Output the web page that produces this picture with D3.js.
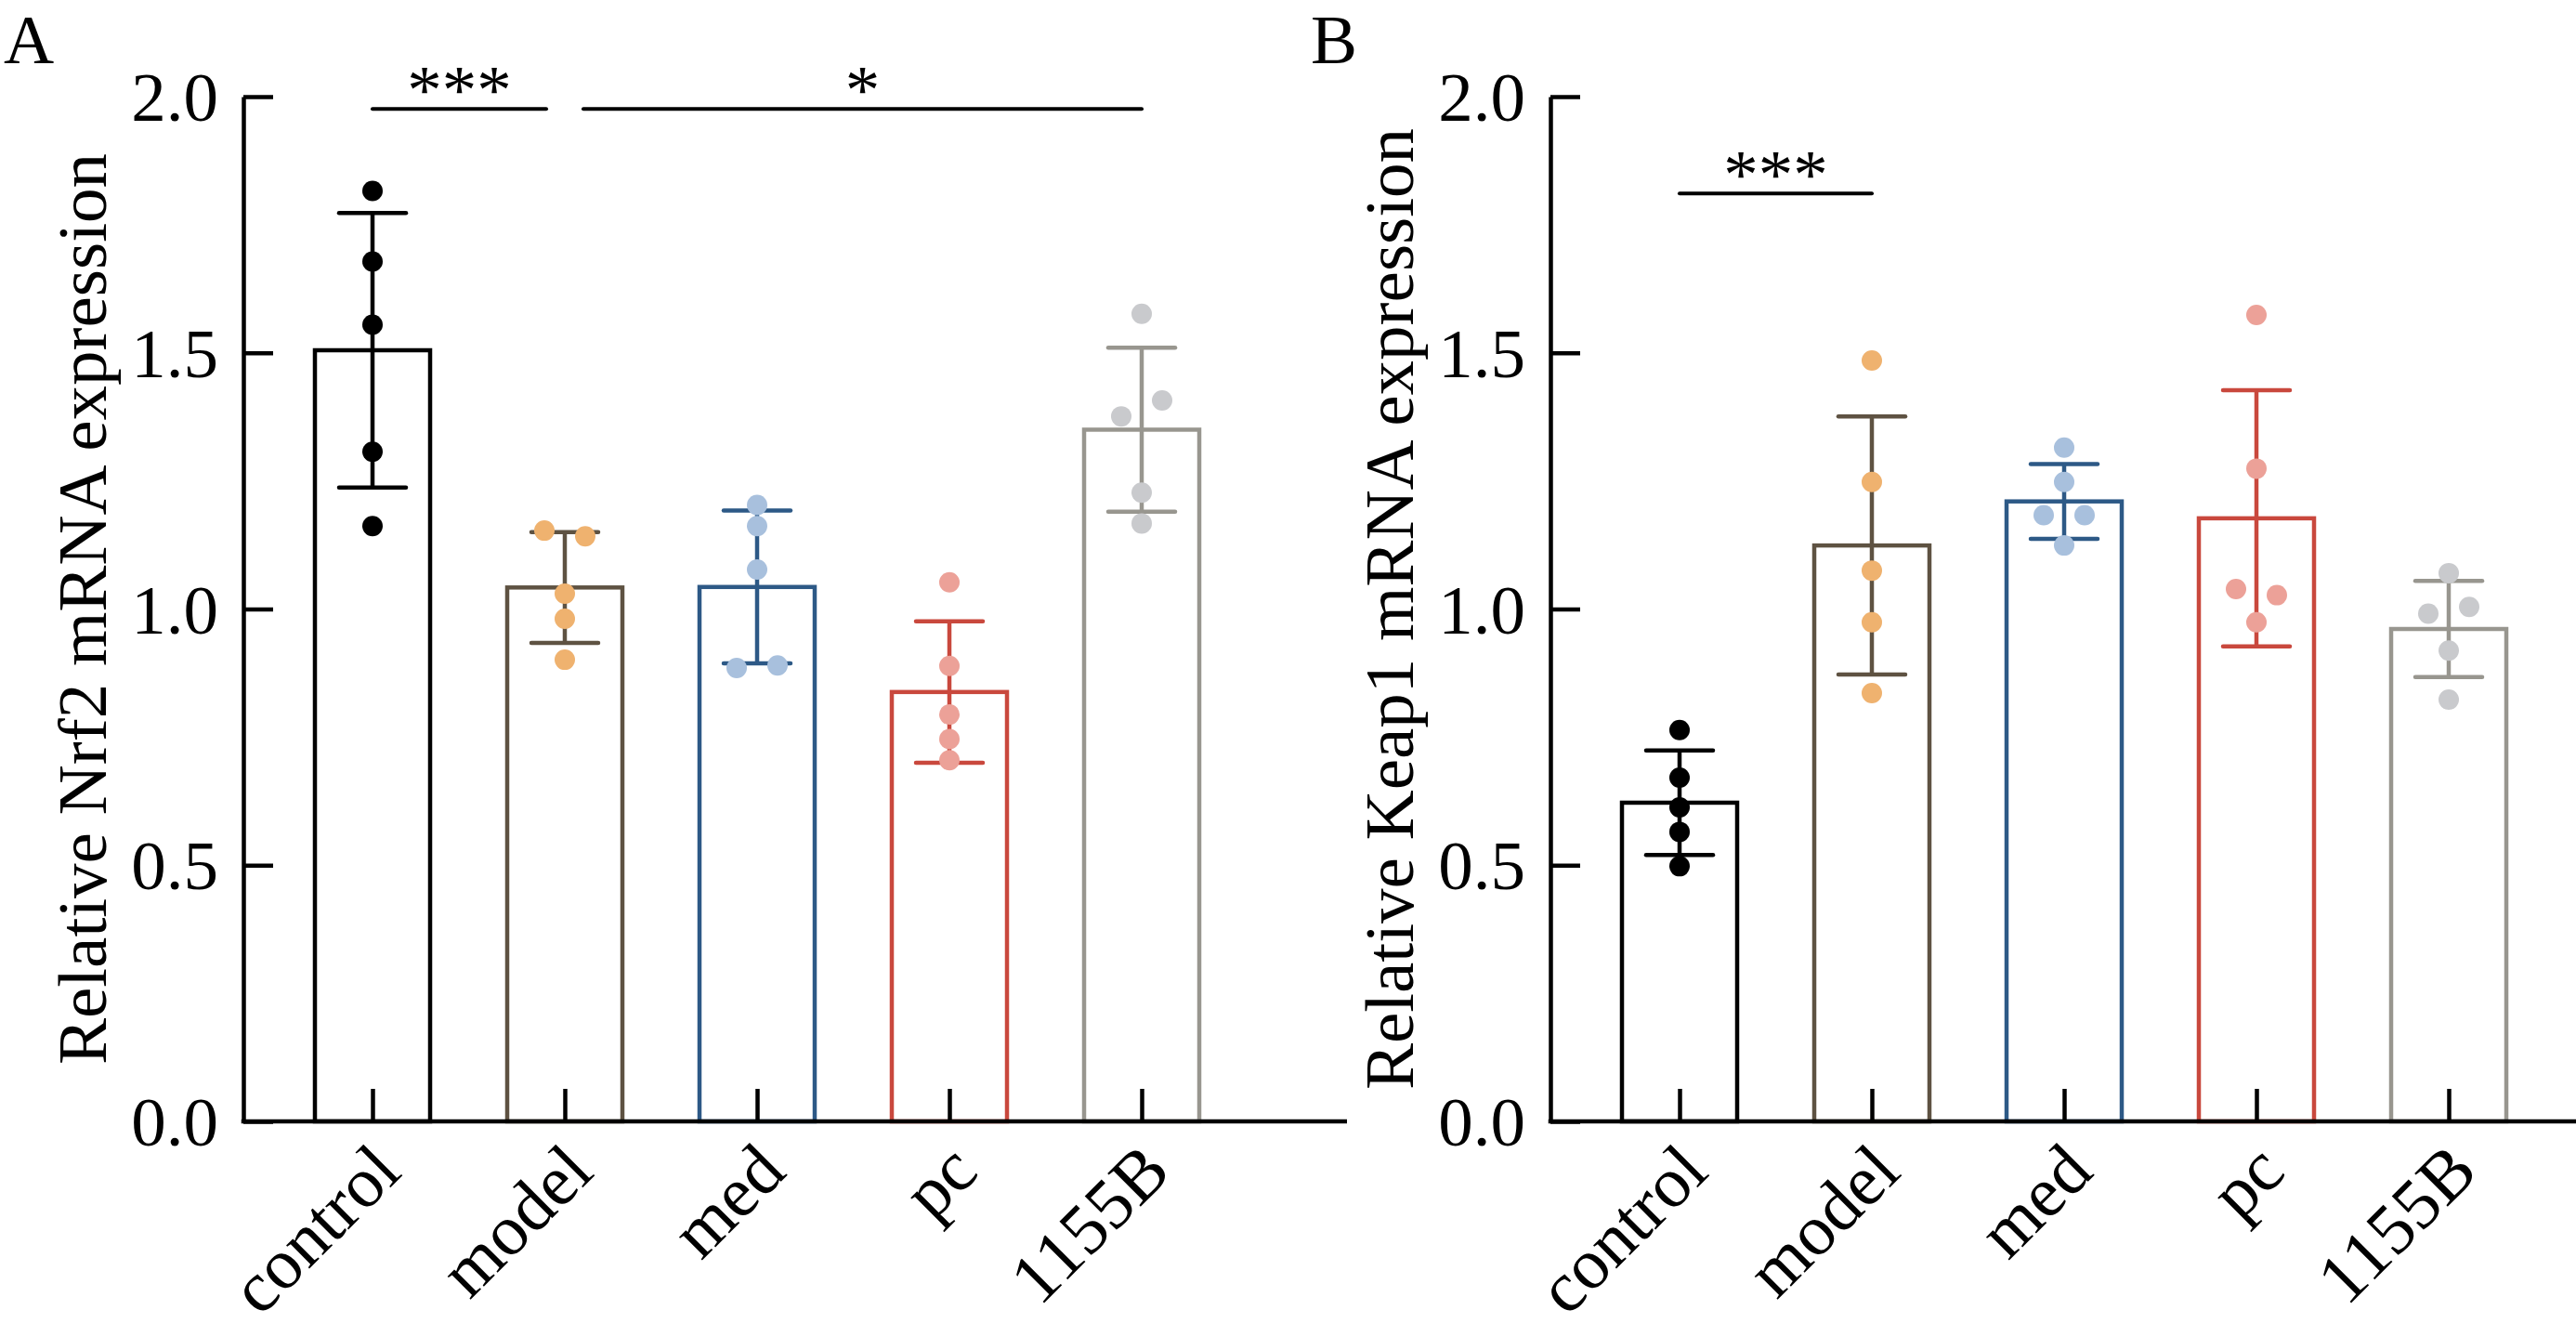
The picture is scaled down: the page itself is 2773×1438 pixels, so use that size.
<!DOCTYPE html>
<html>
<head>
<meta charset="utf-8">
<script src="https://cdn.jsdelivr.net/npm/d3@7"></script>
<style>
    html, body { margin: 0; padding: 0; background: #fff; overflow: hidden; }
    text { font-family: "Liberation Serif", "Times New Roman", serif; fill: #000; }
</style>
</head>
<body>
<div id="chart"></div>
<script>
// Data (relative mRNA expression, n = 5 per group)
const categories = ["control", "model", "med", "pc", "1155B"];
const yTicks = [0.0, 0.5, 1.0, 1.5, 2.0];

const nrf2Means = [1.505, 1.042, 1.043, 0.838, 1.350];
const nrf2SD = [0.268, 0.108, 0.149, 0.138, 0.160];
const nrf2Points = [
    [1.816, 1.678, 1.555, 1.307, 1.162],
    [1.153, 1.142, 1.030, 0.981, 0.901],
    [1.203, 1.162, 1.077, 0.885, 0.890],
    [1.052, 0.889, 0.794, 0.746, 0.705],
    [1.576, 1.376, 1.407, 1.227, 1.167]
];
const nrf2Sig = [
    { from: "control", to: "model", y: 1.976, label: "***" },
    { from: "model", to: "1155B", y: 1.976, label: "*" }
];

const keap1Means = [0.622, 1.124, 1.210, 1.177, 0.961];
const keap1SD = [0.102, 0.252, 0.073, 0.250, 0.094];
const keap1Points = [
    [0.764, 0.671, 0.613, 0.565, 0.498],
    [1.485, 1.248, 1.075, 0.974, 0.836],
    [1.315, 1.248, 1.183, 1.183, 1.124],
    [1.574, 1.274, 1.039, 1.027, 0.974],
    [1.070, 0.991, 1.004, 0.919, 0.823]
];
const keap1Sig = [
    { from: "control", to: "model", y: 1.811, label: "***" }
];

// Styles
const barColors = ["#000000", "#5e5242", "#2d5986", "#c9483d", "#98968f"];
const dotColors = ["#000000", "#efb26f", "#a8c0dd", "#eca198", "#c9cacd"];

const svg = d3.select("#chart")
    .append("svg")
    .attr("width", 2773)
    .attr("height", 1438);

function dotOffsets(values, yScale, r) {
    // side-by-side placement for points that would overlap
    const off = values.map(() => 0);
    for (let i = 0; i < values.length; i++) {
        for (let j = i + 1; j < values.length; j++) {
            if (off[i] === 0 && off[j] === 0 &&
                Math.abs(yScale(values[i]) - yScale(values[j])) < 2 * r - 2) {
                off[i] = -1;
                off[j] = 1;
            }
        }
    }
    return off.map(o => o * 2 * r);
}

function drawPanel(originX, letter, yLabel, means, sds, points, sigs) {
    const top = 104, bottom = 1207;
    const axisLength = 1188;
    const barWidth = 124, capWidth = 72, dotR = 11;
    const lw = 4.5;

    const g = svg.append("g").attr("transform", `translate(${originX}, 0)`);

    const x = d3.scalePoint()
        .domain(categories)
        .range([139, 967]);

    const y = d3.scaleLinear()
        .domain([0, 2])
        .range([bottom, top]);

    // Bars
    g.selectAll(".bar")
        .data(means)
        .enter()
        .append("rect")
        .attr("class", "bar")
        .attr("x", (d, i) => x(categories[i]) - barWidth / 2)
        .attr("y", d => y(d))
        .attr("width", barWidth)
        .attr("height", d => bottom - y(d))
        .attr("fill", "#fff")
        .attr("stroke", (d, i) => barColors[i])
        .attr("stroke-width", lw);

    // Error bars (mean +/- SD)
    means.forEach((m, i) => {
        const cx = x(categories[i]);
        const col = barColors[i];
        g.append("line")
            .attr("x1", cx).attr("x2", cx)
            .attr("y1", y(m - sds[i])).attr("y2", y(m + sds[i]))
            .attr("stroke", col).attr("stroke-width", lw);
        [m - sds[i], m + sds[i]].forEach(v => {
            g.append("line")
                .attr("x1", cx - capWidth / 2).attr("x2", cx + capWidth / 2)
                .attr("y1", y(v)).attr("y2", y(v))
                .attr("stroke", col).attr("stroke-width", lw)
                .attr("stroke-linecap", "round");
        });
    });

    // Individual points
    points.forEach((vals, i) => {
        const offs = dotOffsets(vals, y, dotR);
        g.selectAll(".dot" + i)
            .data(vals)
            .enter()
            .append("circle")
            .attr("cx", (d, k) => x(categories[i]) + offs[k])
            .attr("cy", d => y(d))
            .attr("r", dotR)
            .attr("fill", dotColors[i]);
    });

    // Y axis, ticks pointing inward
    const yAxis = g.append("g")
        .call(d3.axisLeft(y)
            .tickValues(yTicks)
            .tickFormat(d3.format(".1f"))
            .tickSizeInner(-32)
            .tickSizeOuter(0)
            .tickPadding(27));
    yAxis.select(".domain").attr("stroke-width", lw);
    yAxis.selectAll(".tick line").attr("stroke-width", lw);
    yAxis.selectAll(".tick text")
        .attr("dy", "0.34em")
        .style("font-size", "75px")
        .style("font-family", "'Liberation Serif', 'Times New Roman', serif");

    // X axis
    g.append("line")
        .attr("x1", -lw / 2).attr("x2", axisLength)
        .attr("y1", bottom).attr("y2", bottom)
        .attr("stroke", "#000").attr("stroke-width", lw);

    const xAxis = g.append("g")
        .attr("transform", `translate(0, ${bottom})`)
        .call(d3.axisBottom(x).tickSizeInner(-35).tickSizeOuter(0));
    xAxis.select(".domain").remove();
    xAxis.selectAll(".tick line").attr("stroke-width", lw);
    xAxis.selectAll(".tick text")
        .attr("text-anchor", "end")
        .attr("x", null).attr("y", null).attr("dy", null)
        .attr("transform", "translate(33, 57) rotate(-45)")
        .style("font-size", "77px")
        .style("font-family", "'Liberation Serif', 'Times New Roman', serif");

    // Y axis label
    g.append("text")
        .attr("transform", "rotate(-90)")
        .attr("x", -(top + bottom) / 2)
        .attr("y", -148)
        .attr("text-anchor", "middle")
        .style("font-size", "75px")
        .text(yLabel);

    // Panel letter
    g.append("text")
        .attr("x", -258)
        .attr("y", 68)
        .style("font-size", "75px")
        .text(letter);

    // Significance brackets; trim where two brackets meet on one group
    const ends = sigs.flatMap(s => [s.from, s.to]);
    sigs.forEach(s => {
        const shared = c => ends.filter(e => e === c).length > 1;
        const x1 = x(s.from) + (shared(s.from) ? 20 : 0);
        const x2 = x(s.to) - (shared(s.to) ? 20 : 0);
        g.append("line")
            .attr("x1", x1).attr("x2", x2)
            .attr("y1", y(s.y)).attr("y2", y(s.y))
            .attr("stroke", "#000").attr("stroke-width", 4)
            .attr("stroke-linecap", "round");
        g.append("text")
            .attr("x", (x1 + x2) / 2)
            .attr("y", y(s.y) + 5)
            .attr("text-anchor", "middle")
            .style("font-size", "75px")
            .text(s.label);
    });
}

drawPanel(262, "A", "Relative Nrf2 mRNA expression", nrf2Means, nrf2SD, nrf2Points, nrf2Sig);
drawPanel(1669, "B", "Relative Keap1 mRNA expression", keap1Means, keap1SD, keap1Points, keap1Sig);
</script>
</body>
</html>
